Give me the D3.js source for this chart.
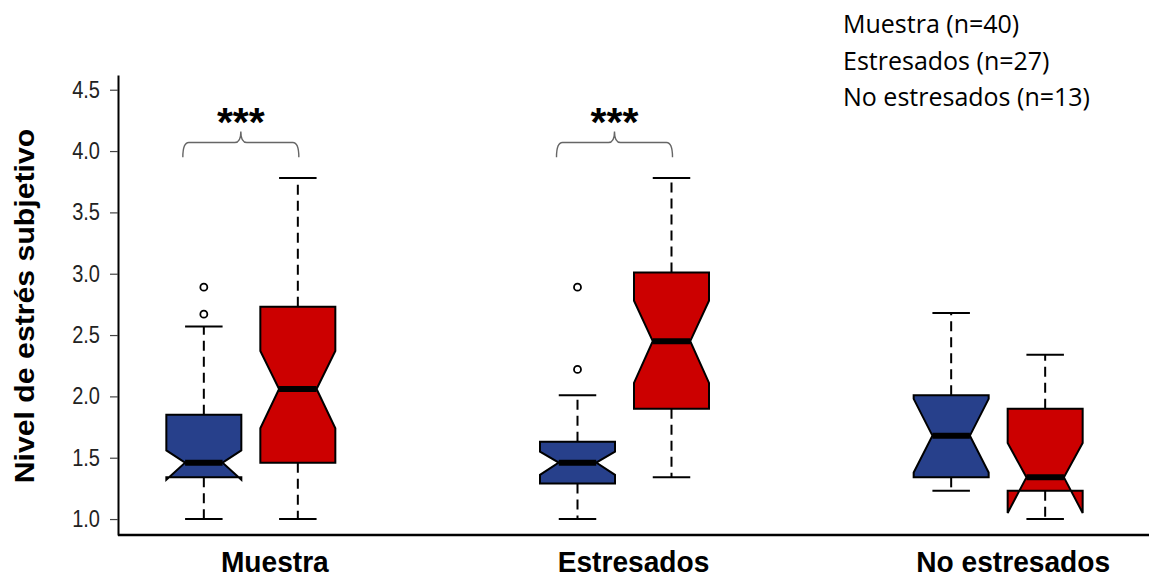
<!DOCTYPE html>
<html>
<head>
<meta charset="utf-8">
<title>Nivel de estrés subjetivo</title>
<script src="https://d3js.org/d3.v7.min.js"></script>
<style>
  body { margin: 0; background: #fff; }
</style>
</head>
<body>
<div id="chart"></div>
<script>
// groups on the x axis and the two boxes drawn in each group
const groups = ["Muestra", "Estresados", "No estresados"];
const series = ["azul", "rojo"];
const seriesColor = { azul: "#27408b", rojo: "#cc0000" };

// box stats per group: [lower whisker, Q1, lower notch, median, upper notch, Q3, upper whisker]
const blueStats = [
  [1.00, 1.34, 1.32, 1.46, 1.56, 1.85, 2.57],
  [1.00, 1.29, 1.36, 1.46, 1.55, 1.63, 2.01],
  [1.23, 1.34, 1.38, 1.68, 1.98, 2.01, 2.68]
];
const redStats = [
  [1.00, 1.46, 1.74, 2.06, 2.37, 2.73, 3.78],
  [1.34, 1.90, 2.11, 2.45, 2.78, 3.01, 3.78],
  [1.00, 1.23, 1.05, 1.34, 1.62, 1.90, 2.34]
];
const blueOutliers = [[2.67, 2.89], [2.22, 2.89], []];
const redOutliers = [[], [], []];

const yTicks = [1.0, 1.5, 2.0, 2.5, 3.0, 3.5, 4.0, 4.5];
const legendLines = ["Muestra (n=40)", "Estresados (n=27)", "No estresados (n=13)"];
// significance brackets
const sigGroups = ["Muestra", "Estresados"];
const sigLabels = ["***", "***"];

const width = 1149, height = 579;
// category labels sit a little right of the group centre in the original
const labelShift = [24, 9, 15];

const svg = d3.select("#chart").append("svg")
  .attr("width", width)
  .attr("height", height)
  .style("font-family", "'Liberation Sans', Arial, sans-serif");

// y scale with R-like padding beyond the 1 - 4.5 range
const y = d3.scaleLinear().domain([0.87, 4.62]).range([535, 75]);
const x = d3.scaleBand().domain(groups).range([64, 1185]).padding(0);
const xs = d3.scaleBand().domain(series).range([-94, 94]).padding(0);
const boxW = 75;

function condense(sel, f) {
  sel.each(function () {
    const len = this.getComputedTextLength();
    d3.select(this).attr("textLength", len * f).attr("lengthAdjust", "spacingAndGlyphs");
  });
}

// build box records
const boxes = [];
groups.forEach((g, i) => {
  [["azul", blueStats[i], blueOutliers[i]], ["rojo", redStats[i], redOutliers[i]]].forEach(([s, st, out]) => {
    boxes.push({
      group: g, serie: s,
      lo: st[0], q1: st[1], nLo: st[2], med: st[3], nHi: st[4], q3: st[5], hi: st[6],
      out: out,
      cx: x(g) + x.bandwidth() / 2 + xs(s) + xs.bandwidth() / 2
    });
  });
});

// y axis
const yAxis = svg.append("g")
  .attr("transform", "translate(118,0)")
  .call(d3.axisLeft(y).tickValues(yTicks).tickFormat(d3.format(".1f"))
    .tickSize(8).tickSizeOuter(0).tickPadding(10));
yAxis.select(".domain").attr("stroke", "#000").attr("stroke-width", 2);
yAxis.selectAll(".tick line").attr("stroke", "#444").attr("stroke-width", 1.2);
yAxis.selectAll(".tick text")
  .attr("font-size", 23)
  .attr("fill", "#222")
  .call(condense, 0.87);

// x axis baseline
svg.append("line")
  .attr("x1", 118).attr("x2", width)
  .attr("y1", y(0.87)).attr("y2", y(0.87))
  .attr("stroke", "#000").attr("stroke-width", 2.5);

// category labels
svg.selectAll(".cat").data(groups).join("text")
  .attr("class", "cat")
  .attr("x", (d, i) => x(d) + x.bandwidth() / 2 + labelShift[i])
  .attr("y", 572)
  .attr("text-anchor", "middle")
  .attr("font-size", 29)
  .attr("font-weight", "bold")
  .attr("fill", "#000")
  .text(d => d)
  .call(condense, 0.97);

// y label
svg.append("text")
  .attr("transform", "translate(34,306) rotate(-90)")
  .attr("text-anchor", "middle")
  .attr("font-size", 28)
  .attr("font-weight", "bold")
  .attr("fill", "#000")
  .text("Nivel de estrés subjetivo")
  .call(condense, 1.08);

// whiskers
const wg = svg.append("g");
boxes.forEach(b => {
  [[b.q3, b.hi], [b.q1, b.lo]].forEach(([a, e]) => {
    wg.append("line")
      .attr("x1", b.cx).attr("x2", b.cx)
      .attr("y1", y(a)).attr("y2", y(e))
      .attr("stroke", "#000").attr("stroke-width", 2)
      .attr("stroke-dasharray", "10,6");
    wg.append("line")
      .attr("x1", b.cx - boxW / 4).attr("x2", b.cx + boxW / 4)
      .attr("y1", y(e)).attr("y2", y(e))
      .attr("stroke", "#000").attr("stroke-width", 2);
  });
});

// notched boxes
const bg = svg.append("g");
boxes.forEach(b => {
  const L = b.cx - boxW / 2, R = b.cx + boxW / 2;
  const I1 = b.cx - boxW / 4, I2 = b.cx + boxW / 4;
  const pts = [[L, b.q1], [L, b.nLo], [I1, b.med], [L, b.nHi], [L, b.q3],
               [R, b.q3], [R, b.nHi], [I2, b.med], [R, b.nLo], [R, b.q1]];
  bg.append("polygon")
    .attr("points", pts.map(p => p[0] + "," + y(p[1])).join(" "))
    .attr("fill", seriesColor[b.serie])
    .attr("stroke", "#000").attr("stroke-width", 2)
    .attr("stroke-linejoin", "miter");
  bg.append("line")
    .attr("x1", I1).attr("x2", I2)
    .attr("y1", y(b.med)).attr("y2", y(b.med))
    .attr("stroke", "#000").attr("stroke-width", 6);
  bg.selectAll(null).data(b.out).join("circle")
    .attr("cx", b.cx).attr("cy", d => y(d))
    .attr("r", 3.5)
    .attr("fill", "#fff").attr("stroke", "#000").attr("stroke-width", 1.8);
});

// significance brackets
sigGroups.forEach((g, i) => {
  const c = x(g) + x.bandwidth() / 2;
  const x1 = c - 68, x2 = c + 48, xm = c - 10;
  const yb = y(3.95), yt = y(4.07), ytip = y(4.16);
  const r = 6;
  const p = d3.path();
  p.moveTo(x1, yb);
  p.quadraticCurveTo(x1, yt, x1 + r, yt);
  p.lineTo(xm - r, yt);
  p.quadraticCurveTo(xm, yt, xm, ytip);
  p.quadraticCurveTo(xm, yt, xm + r, yt);
  p.lineTo(x2 - r, yt);
  p.quadraticCurveTo(x2, yt, x2, yb);
  svg.append("path")
    .attr("d", p.toString())
    .attr("fill", "none")
    .attr("stroke", "#666").attr("stroke-width", 1.4);
  svg.append("text")
    .attr("x", xm).attr("y", y(4.17) + 6)
    .attr("text-anchor", "middle")
    .attr("font-size", 41)
    .attr("font-weight", "bold")
    .attr("fill", "#000")
    .text(sigLabels[i]);
});

// legend text (sample sizes)
svg.selectAll(".leg").data(legendLines).join("text")
  .attr("class", "leg")
  .attr("x", 843)
  .attr("y", (d, i) => 33 + i * 36.5)
  .attr("font-family", "'Open Sans', 'Noto Sans', sans-serif")
  .attr("font-size", 25)
  .attr("fill", "#000")
  .text(d => d);
</script>
</body>
</html>
